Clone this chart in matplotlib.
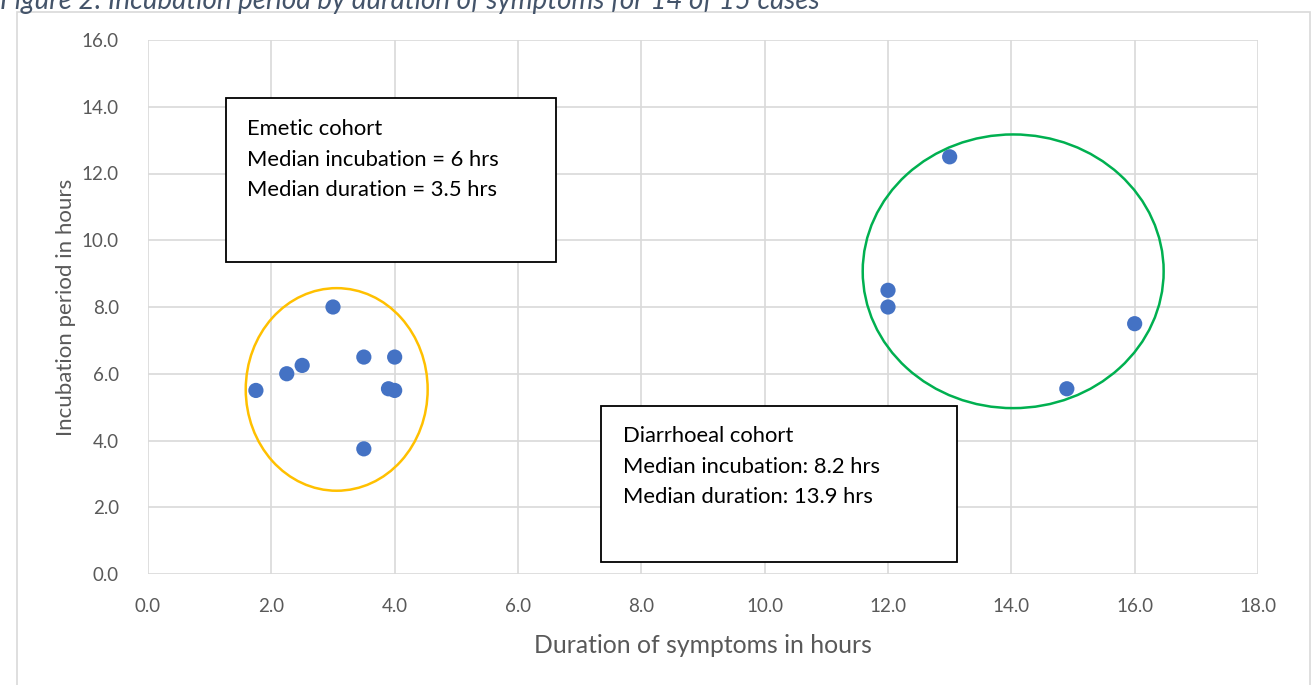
import matplotlib.pyplot as plt
from matplotlib.patches import Ellipse, Rectangle

# Duration (hours) vs incubation (hours), 14 cases
duration = [1.75, 2.25, 2.5, 3.0, 3.5, 4.0, 3.9, 4.0, 3.5,
            12.0, 12.0, 13.0, 16.0, 14.9]
incubation = [5.5, 6.0, 6.25, 8.0, 6.5, 6.5, 5.55, 5.5, 3.75,
              8.5, 8.0, 12.5, 7.5, 5.55]

emetic_text = ["Emetic cohort", "Median incubation = 6 hrs", "Median duration = 3.5 hrs"]
diarr_text = ["Diarrhoeal cohort", "Median incubation: 8.2 hrs", "Median duration: 13.9 hrs"]

plt.rcParams['font.family'] = ['Lato', 'DejaVu Sans']

fig = plt.figure(figsize=(13.13, 6.85), dpi=100)

# outer chart frame
fig.patches.append(Rectangle((17 / 1313, -0.01), 1293 / 1313, 1 - 12 / 685 + 0.01,
                             transform=fig.transFigure, fill=False,
                             edgecolor='#d9d9d9', linewidth=1.2))
fig.text(0.0, 1.0 - 0.002, "Figure 2: Incubation period by duration of symptoms for 14 of 15 cases",
         fontsize=20, style='italic', color='#44546a', va='center', ha='left')

ax = fig.add_axes([148 / 1313, 111 / 685, 1110 / 1313, 534 / 685])
ax.set_xlim(0, 18)
ax.set_ylim(0, 16)
ax.set_xticks(range(0, 19, 2))
ax.set_yticks(range(0, 17, 2))
ax.set_xticklabels([f"{v:.1f}" for v in range(0, 19, 2)])
ax.set_yticklabels([f"{v:.1f}" for v in range(0, 17, 2)])
ax.grid(True, color='#d9d9d9', linewidth=1.2)
ax.set_axisbelow(True)
for s in ax.spines.values():
    s.set_visible(False)
ax.tick_params(length=0, labelsize=13.5, labelcolor='#595959')
ax.tick_params(axis='x', pad=17)
ax.tick_params(axis='y', pad=21)

ax.scatter(duration, incubation, s=120, color='#4472c4', zorder=3, edgecolors='none')

ax.add_patch(Ellipse((3.06, 5.53), 2.95, 6.07, fill=False, edgecolor='#ffc000', linewidth=1.8, zorder=4))
ax.add_patch(Ellipse((14.03, 9.07), 4.88, 8.2, fill=False, edgecolor='#00b050', linewidth=1.8, zorder=4))

# annotation boxes
ax.add_patch(Rectangle((1.26, 9.35), 5.35, 4.9, fill=True, facecolor='white',
                       edgecolor='black', linewidth=1.3, zorder=5))
for i, line in enumerate(emetic_text):
    ax.text(1.6, 13.32 - i * 0.91, line, fontsize=15.8, color='black', va='center', zorder=6)

ax.add_patch(Rectangle((7.35, 0.36), 5.77, 4.66, fill=True, facecolor='white',
                       edgecolor='black', linewidth=1.3, zorder=5))
for i, line in enumerate(diarr_text):
    ax.text(7.7, 4.13 - i * 0.91, line, fontsize=15.8, color='black', va='center', zorder=6)

ax.set_xlabel("Duration of symptoms in hours", fontsize=17.8, color='#595959', labelpad=14)
ax.set_ylabel("Incubation period in hours", fontsize=16, color='#595959', labelpad=4)

fig.savefig("out.png", dpi=100)
